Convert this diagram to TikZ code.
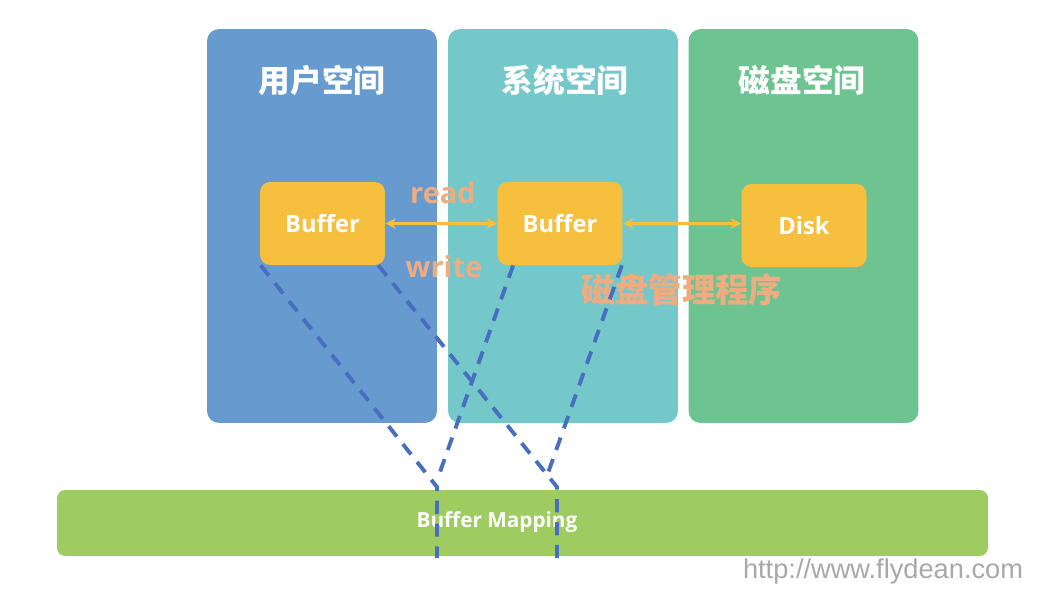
\documentclass[tikz,border=0pt]{standalone}
\usepackage{fontspec}
\setmainfont{Open Sans}
\newfontfamily\cjk{Noto Sans CJK SC}
\newfontfamily\wmfont{Liberation Sans}
\usepackage{xcolor}
\definecolor{userblue}{RGB}{103,154,207}
\definecolor{systeal}{RGB}{117,200,202}
\definecolor{diskgreen}{RGB}{110,196,145}
\definecolor{bufyellow}{RGB}{246,191,62}
\definecolor{mapgreen}{RGB}{159,204,96}
\definecolor{salmon}{RGB}{238,172,128}
\definecolor{dashblue}{RGB}{72,110,192}
\definecolor{wmgray}{RGB}{168,168,168}
\usetikzlibrary{arrows.meta,positioning}

\begin{document}
\begin{tikzpicture}[
  x=0.02cm, y=-0.02cm,
  space/.style={rectangle,rounded corners=0.24cm,draw=none,
                minimum width=4.6cm,minimum height=7.88cm,inner sep=0pt},
  title/.style={font=\cjk\bfseries\fontsize{18}{20}\selectfont,
                text=white,inner sep=0pt},
  buf/.style={rectangle,rounded corners=0.2cm,fill=bufyellow,
              minimum width=2.5cm,minimum height=1.66cm,inner sep=0pt,
              font=\bfseries\fontsize{13.5}{15}\selectfont,text=white},
  op/.style={font=\bfseries\fontsize{16.5}{18}\selectfont,text=salmon,inner sep=0pt},
  rw/.style={{Stealth[length=6pt,width=6pt]}-{Stealth[length=6pt,width=6pt]},
             draw=bufyellow,line width=1.4pt},
  mapline/.style={draw=dashblue,line width=2.2pt,dash pattern=on 7.5pt off 5.5pt},
]
  \useasboundingbox (0,0) rectangle (1064,596);

  % spaces
  \node[space,fill=userblue](U) at (322,226) {};
  \node[space,fill=systeal](S) at (563,226) {};
  \node[space,fill=diskgreen](D) at (803.5,226) {};
  \node[title](UT) at (322,80) {用户空间};
  \node[title](ST) at (565,80) {系统空间};
  \node[title](DT) at (802,80) {磁盘空间};

  % mapping bar
  \node[rectangle,rounded corners=0.16cm,fill=mapgreen,minimum width=18.62cm,
        minimum height=1.32cm,inner sep=0pt](M) at (522.5,523) {};
  \node[font=\bfseries\fontsize{11.8}{13}\selectfont,text=white,inner sep=0pt](MT)
    at (497,522) {Buffer Mapping};

  % labels
  \node[op](R) at (443,193) {read};
  \node[op](W) at (444,267) {write};
  \node[op,font=\cjk\bfseries\fontsize{19}{21}\selectfont](P) at (682,290) {磁盘管理程序};

  % buffers
  \node[buf](UB) at (322.5,223.5) {Buffer};
  \node[buf](SB) at (560,223.5) {Buffer};
  \node[buf](DB) at (804,225.5) {Disk};

  \draw[rw] (UB) -- (SB);
  \draw[rw] (SB) -- (DB.west |- SB);

  % mapping lines
  \coordinate (m1) at (437,487);
  \coordinate (m1a) at (440,472);
  \coordinate (m1b) at (437,558);
  \coordinate (m2) at (557,487);
  \coordinate (m2a) at (548,473);
  \coordinate (m2b) at (557,558);
  \draw[mapline] ([xshift=0.02cm]UB.south west) -- (m1) -- (m1b);
  \draw[mapline] ([xshift=-0.14cm]UB.south east) -- (m2) -- (m2b);
  \draw[mapline] ([xshift=0.32cm]SB.south west) -- (m1a);
  \draw[mapline] ([xshift=-0.02cm]SB.south east) -- (m2a);

  % watermark
  \node[font=\wmfont\fontsize{15.5}{17}\selectfont,text=wmgray,inner sep=0pt](WM)
    at (883,571) {http://www.flydean.com};
\end{tikzpicture}
\end{document}
